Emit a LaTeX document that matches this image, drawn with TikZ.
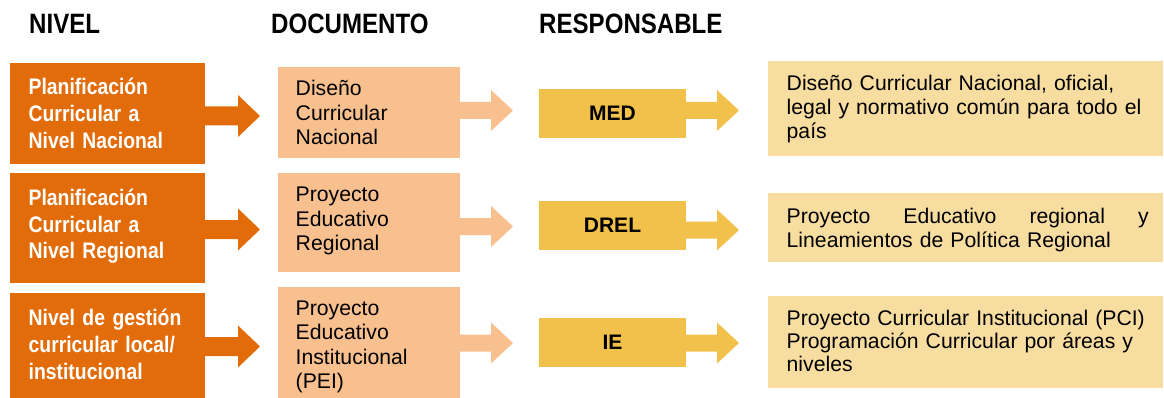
\documentclass[tikz,border=0pt]{standalone}
\usepackage{fontspec}
\setmainfont{Liberation Sans}
\newfontfamily\narrowsans[FakeStretch=0.86]{Liberation Sans}
\usetikzlibrary{calc}
\definecolor{nivelorange}{HTML}{E36C0A}
\definecolor{docpeach}{HTML}{F9C08F}
\definecolor{respyellow}{HTML}{F2C14B}
\definecolor{desclight}{HTML}{F8DDA0}
% block arrow: colour, start coordinate, shaft length, head length, shaft half-width, head half-width
\newcommand\bigarrow[6]{%
  \fill[#1] (#2) ++(0,-#5) -- ++(#3,0) -- ++(0,{#5-#6}) -- ++(#4,#6)
    -- ++(-#4,#6) -- ++(0,{#5-#6}) -- ++(-#3,0) -- cycle;}
\begin{document}
\begin{tikzpicture}[x=1pt,y=-1pt,
  boxbase/.style={draw=none,inner sep=0pt,outer sep=0pt,anchor=north west},
  obox/.style={boxbase,fill=nivelorange,minimum width=195pt},
  pbox/.style={boxbase,fill=docpeach,minimum width=182pt},
  ybox/.style={boxbase,fill=respyellow,minimum width=147pt,minimum height=49pt,
    font=\bfseries\fontsize{21}{24}\selectfont},
  lbox/.style={boxbase,fill=desclight,minimum width=395pt},
  head/.style={anchor=base west,inner sep=0pt,font=\narrowsans\bfseries\fontsize{28}{32}\selectfont},
  otext/.style={anchor=base west,inner sep=0pt,text width=180pt,align=left,text=white,
    font=\narrowsans\bfseries\fontsize{22.5}{27}\selectfont},
  ptext/.style={anchor=base west,inner sep=0pt,text width=160pt,align=left,
    font=\fontsize{21.2}{24.5}\selectfont},
  ltext/.style={anchor=base west,inner sep=0pt,text width=362pt,align=left,
    font=\fontsize{21.2}{24}\selectfont}]
\useasboundingbox (0,0) rectangle (1164,398);

% column headings
\node[head] (hn) at (29,34) {NIVEL};
\node[head] (hd) at (271,34) {DOCUMENTO};
\node[head] (hr) at (539,34) {RESPONSABLE};

% level boxes
\node[obox,minimum height=101pt] (o1) at (10,63) {};
\node[obox,minimum height=110pt] (o2) at (10,173) {};
\node[obox,minimum height=105pt] (o3) at (10,293) {};
\node[otext] (o1t) at (28.5,95) {Planificación\\Curricular a\\Nivel Nacional};
\node[otext] (o2t) at (28.5,205) {Planificación\\Curricular a\\Nivel Regional};
\node[otext] (o3t) at (28.5,325) {Nivel de gestión\\curricular local/\\institucional};

% document boxes
\node[pbox,minimum height=91pt] (p1) at (278,67) {};
\node[pbox,minimum height=99pt] (p2) at (278,173) {};
\node[pbox,minimum height=111pt] (p3) at (278,287) {};
\node[ptext] (p1t) at (295.5,96) {Diseño\\Curricular\\Nacional};
\node[ptext] (p2t) at (295.5,201.7) {Proyecto\\Educativo\\Regional};
\node[ptext] (p3t) at (295.5,315) {Proyecto\\Educativo\\Institucional\\(PEI)};

% responsible boxes
\node[ybox] (y1) at (539,89) {MED};
\node[ybox] (y2) at (539,201) {DREL};
\node[ybox] (y3) at (539,318) {IE};

% description boxes
\node[lbox,minimum height=95pt] (l1) at (768,61) {};
\node[lbox,minimum height=69pt] (l2) at (768,193) {};
\node[lbox,minimum height=92pt] (l3) at (768,296) {};
\node[ltext] (l1t) at (786.5,91) {Diseño Curricular Nacional, oficial,\\legal y normativo común para todo el\\país};
\node[ltext] (l2t) at (786.5,223.3) {Proyecto\hfill Educativo\hfill regional\hfill y\\Lineamientos de Política Regional};
\node[ltext,font=\fontsize{21.2}{23}\selectfont] (l3t) at (786.5,325.7) {Proyecto Curricular Institucional (PCI)\\Programación Curricular por áreas y\\niveles};

% arrow starts
\coordinate (ao1) at (o1.east |- 0,116);
\coordinate (ao2) at (o2.east |- 0,229.5);
\coordinate (ao3) at (o3.east |- 0,346.5);
\coordinate (ap1) at (p1.east |- 0,110.5);
\coordinate (ap2) at (p2.east |- 0,226.5);
\coordinate (ap3) at (p3.east |- 0,343);
\coordinate (ay1) at (y1.east |- 0,110.5);
\coordinate (ay2) at (y2.east |- 0,230);
\coordinate (ay3) at (y3.east |- 0,343);

% block arrows
\bigarrow{nivelorange}{ao1}{33}{22}{9.5}{21}
\bigarrow{nivelorange}{ao2}{33}{22}{9.5}{21}
\bigarrow{nivelorange}{ao3}{33}{22}{9.5}{21}
\bigarrow{docpeach}{ap1}{31}{22}{8.5}{20.5}
\bigarrow{docpeach}{ap2}{31}{22}{8.5}{20.5}
\bigarrow{docpeach}{ap3}{31}{22}{8.5}{20.5}
\bigarrow{respyellow}{ay1}{31}{22}{8.5}{20.5}
\bigarrow{respyellow}{ay2}{31}{22}{8.5}{20.5}
\bigarrow{respyellow}{ay3}{31}{22}{8.5}{20.5}
\end{tikzpicture}
\end{document}
